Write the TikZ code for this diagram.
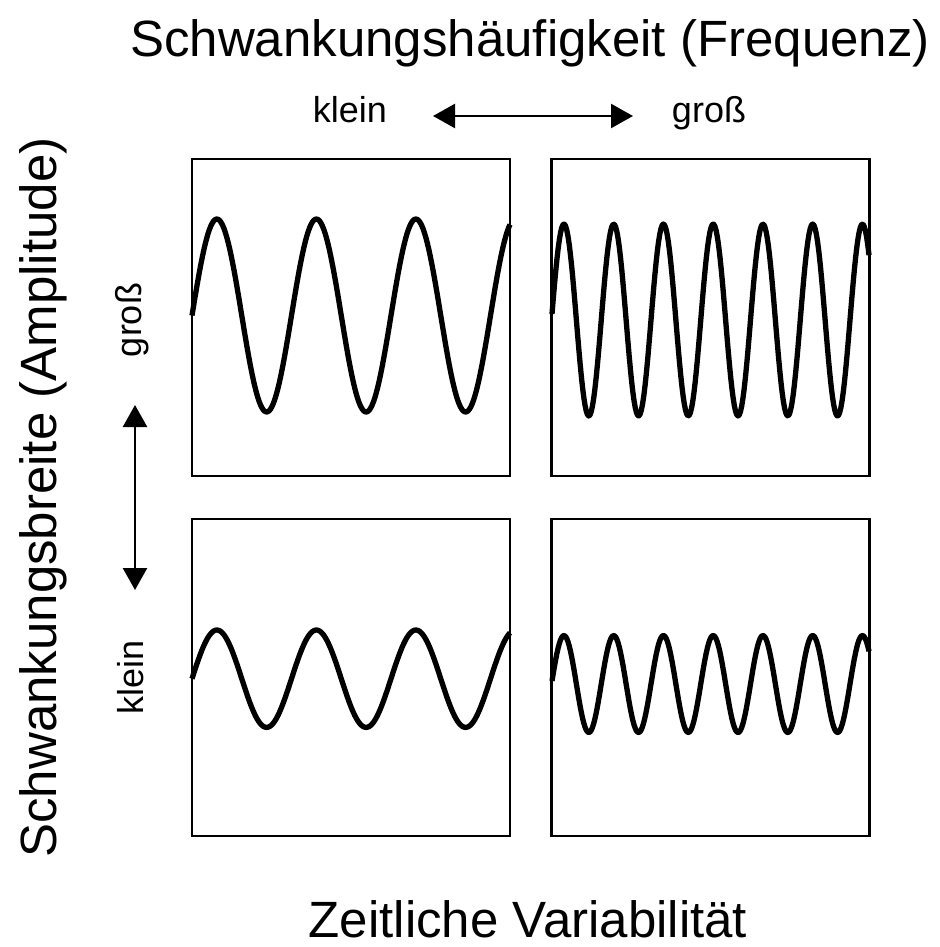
\documentclass[tikz,border=0pt]{standalone}
\usepackage{fontspec}
\setmainfont{Liberation Sans}
\usetikzlibrary{arrows.meta}
\begin{document}
\begin{tikzpicture}[x=1pt,y=-1pt,
  panel/.style={draw, line width=2.6pt, minimum width=318pt, minimum height=317pt, inner sep=0pt},
  wave/.style={line width=5.3pt, line join=round},
  dblarrow/.style={line width=2.5pt, {Triangle[length=22pt,width=24pt]}-{Triangle[length=22pt,width=24pt]}},
  bigtext/.style={font=\fontsize{51}{60}\selectfont, inner sep=0pt},
  smalltext/.style={font=\fontsize{36}{42}\selectfont, inner sep=0pt}]
\path[fill=white, use as bounding box] (0,0) rectangle (939,947);

% panels
\node[panel] (tl) at (351,317.5) {};
\node[panel] (tr) at (710.5,317.5) {};
\node[panel] (bl) at (351,677.5) {};
\node[panel] (br) at (710.5,677.5) {};

% waves
\draw[wave] plot[domain=192:510, samples=220] (\x, {315.5 - 96.5*sin(((\x-192)/99.5)*360)});
\draw[wave] plot[domain=552:869, samples=260] (\x, {320 - 96*sin(((\x-551.5)/49.75)*360)});
\draw[wave] plot[domain=192:510, samples=220] (\x, {678.7 - 48.7*sin(((\x-192)/99.5)*360)});
\draw[wave] plot[domain=552:869, samples=260] (\x, {684 - 48.5*sin(((\x-551.5)/49.75)*360)});

% titles
\node[bigtext, anchor=base] (title) at (530,57) {Schwankungshäufigkeit (Frequenz)};
\node[bigtext, anchor=base] (xlabel) at (528,937.5) {Zeitliche Variabilität};
\node[bigtext, anchor=base, rotate=90] (ylabel) at (56,497.5) {Schwankungsbreite (Amplitude)};

% small labels
\node[smalltext, anchor=base] (kleinx) at (350,122) {klein};
\node[smalltext, anchor=base] (grossx) at (709,122) {groß};
\node[smalltext, anchor=base, rotate=90] (grossy) at (141,320) {groß};
\node[smalltext, anchor=base, rotate=90] (kleiny) at (143,677) {klein};

% arrows
\coordinate (hL) at (433,116);
\coordinate (hR) at (633,116);
\coordinate (vT) at (135,405);
\coordinate (vB) at (135,590);
\draw[dblarrow] (hL) -- (hR);
\draw[dblarrow] (vT) -- (vB);
\end{tikzpicture}
\end{document}
